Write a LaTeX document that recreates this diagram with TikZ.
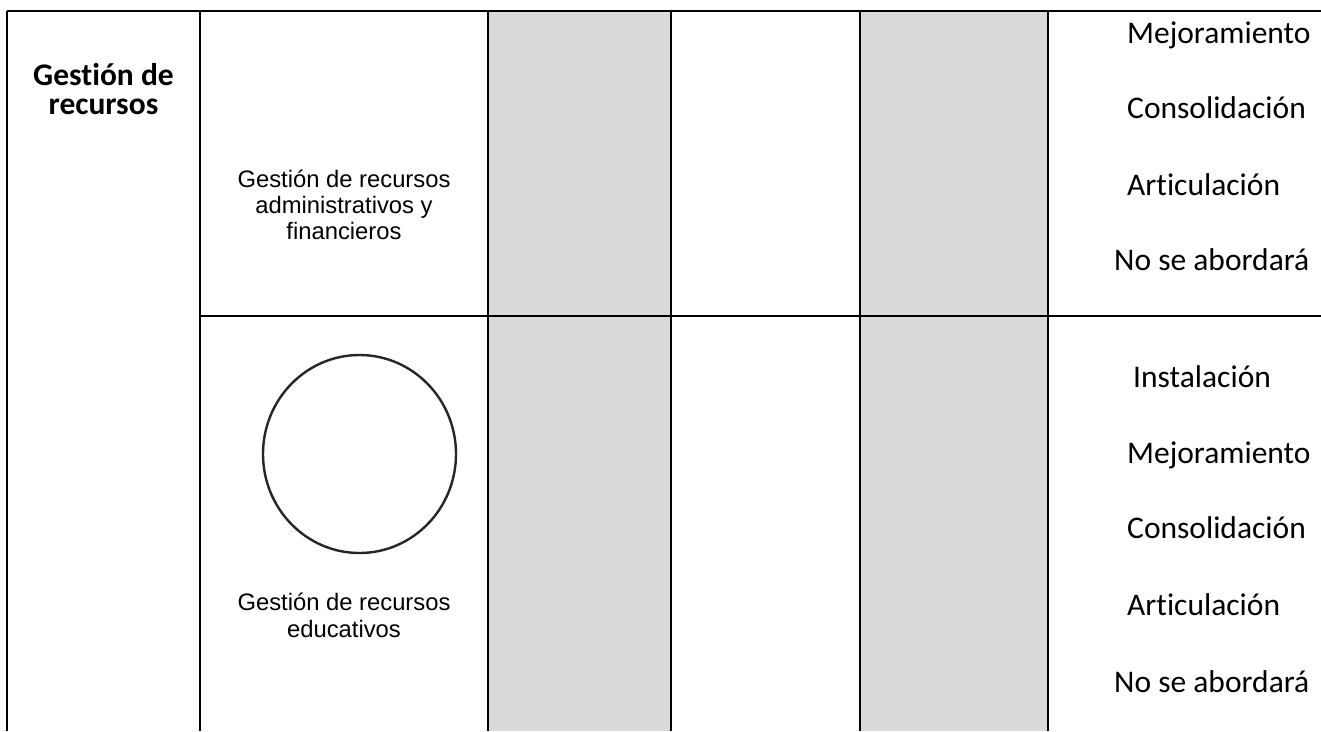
\documentclass[tikz,border=0pt]{standalone}
\usepackage{fontspec}
\usetikzlibrary{shapes.geometric}
\newfontfamily\calib[Ligatures=NoCommon]{Carlito}
\newfontfamily\arialf{Liberation Sans}
\begin{document}
\begin{tikzpicture}[x=1pt,y=-1pt,
  rule/.style={line width=2.6pt,black},
  grayband/.style={fill=bandgray,draw=none},
  lvl/.style={font=\calib\fontsize{31.5}{36}\selectfont,inner sep=0pt,anchor=base west},
  mid/.style={font=\arialf\fontsize{23.8}{27}\selectfont,inner sep=0pt,anchor=base},
  head/.style={font=\calib\bfseries\fontsize{31.5}{36}\selectfont,inner sep=0pt,anchor=base}]
\definecolor{bandgray}{HTML}{D9D9D9}
\useasboundingbox (0,0) rectangle (1321,731);
\fill[white] (0,0) rectangle (1321,731);
% gray bands
\fill[grayband] (488,11) rectangle (671,731);
\fill[grayband] (860,11) rectangle (1048,731);
% grid lines
\draw[rule] (7,11) -- (1321,11);
\draw[rule] (200,316) -- (1321,316);
\foreach \x in {7,200,488,671,860,1048}{
  \draw[rule] (\x,11) -- (\x,731);
}
% left heading
\node[head] (h1) at (103.5,85) {Gestión de};
\node[head] (h2) at (103.5,114) {recursos};
% row 1
\node[mid] (a1) at (344,187) {Gestión de recursos};
\node[mid] (a2) at (344,213) {administrativos y};
\node[mid] (a3) at (344,239) {financieros};
\node[lvl] (r1) at (1127,43) {Mejoramiento};
\node[lvl] (r2) at (1127,118) {Consolidación};
\node[lvl] (r3) at (1127,195) {Articulación};
\node[lvl] (r4) at (1114,270) {No se abordará};
% row 2
\node[draw=black!85,line width=2.4pt,ellipse,minimum width=193pt,minimum height=198pt,inner sep=0pt] (circ) at (359.5,454) {};
\node[mid] (b1) at (344,610) {Gestión de recursos};
\node[mid] (b2) at (344,637) {educativos};
\node[lvl] (s1) at (1133,387) {Instalación};
\node[lvl] (s2) at (1127,463) {Mejoramiento};
\node[lvl] (s3) at (1127,538) {Consolidación};
\node[lvl] (s4) at (1127,615) {Articulación};
\node[lvl] (s5) at (1114,692) {No se abordará};
\end{tikzpicture}
\end{document}
